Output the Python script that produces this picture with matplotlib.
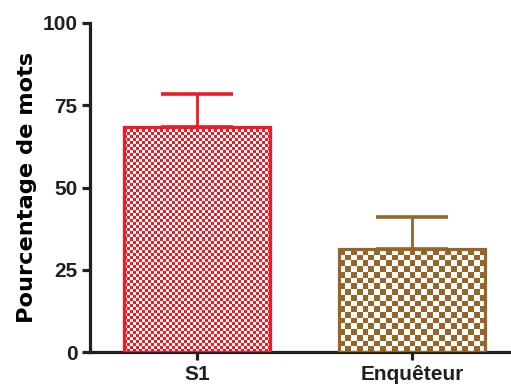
import numpy as np
import matplotlib.pyplot as plt
from matplotlib.colors import ListedColormap

# Data
categories = ["S1", "Enquêteur"]
means = [68.4, 31.3]
errors = [10.0, 9.7]

colors = ["#ED1C24", "#956628"]
cell_px = [3.0, 5.8]  # checker cell size in pixels

plt.rcParams['font.family'] = ['Liberation Sans', 'DejaVu Sans']
plt.rcParams['font.weight'] = 'bold'

fig = plt.figure(figsize=(5.11, 3.9), dpi=100)
ax = fig.add_axes([90 / 511, 38 / 390, 1 - 90 / 511, (352 - 23) / 390])

x = np.arange(len(categories))
bars = ax.bar(x, means, width=0.68, facecolor='none', edgecolor=colors,
              linewidth=2.3, zorder=3)
# upper error bars only, one colour per bar
for i in range(len(x)):
    ax.errorbar(x[i], means[i], yerr=[[0], [errors[i]]], fmt='none',
                ecolor=colors[i], elinewidth=2.0, capsize=26, capthick=2.6,
                zorder=2)

ax.set_xlim(-0.5, 1.46)
ax.set_ylim(0, 100)
fig.canvas.draw()

# checkerboard fill clipped to each bar
for bar, col, cell in zip(bars, colors, cell_px):
    bb = bar.get_window_extent()
    ncol = max(1, int(round(bb.width / cell)))
    nrow = max(1, int(round(bb.height / cell)))
    board = (np.add.outer(np.arange(nrow), np.arange(ncol)) % 2)
    im = ax.imshow(board, cmap=ListedColormap(['white', col]),
                   extent=(bar.get_x(), bar.get_x() + bar.get_width(),
                           0, bar.get_height()),
                   interpolation='nearest', aspect='auto', zorder=1,
                   origin='lower')
    im.set_clip_path(bar)
ax.set_xlim(-0.5, 1.46)
ax.set_ylim(0, 100)

ax.set_yticks([0, 25, 50, 75, 100])
ax.set_xticks(x)
ax.set_xticklabels(categories)
ax.set_ylabel("Pourcentage de mots", fontsize=16.2, fontweight='bold',
              family='DejaVu Sans', labelpad=4)

for s in ['top', 'right']:
    ax.spines[s].set_visible(False)
for s in ['left', 'bottom']:
    ax.spines[s].set_linewidth(2.3)
    ax.spines[s].set_color('#231F20')
ax.tick_params(axis='both', width=2.3, length=6, color='#231F20',
               labelsize=15, direction='out', pad=3, labelcolor='#231F20')

fig.savefig("out.png", dpi=100)
